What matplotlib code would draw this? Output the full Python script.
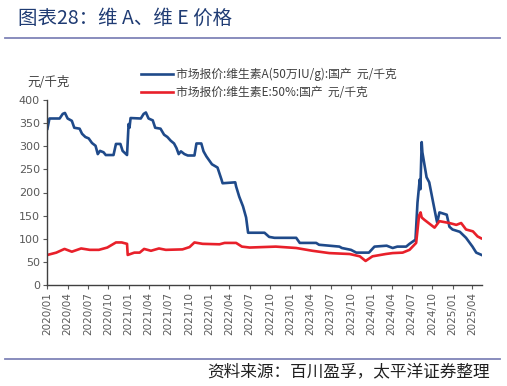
import matplotlib
matplotlib.use('Agg')
import matplotlib.pyplot as plt
import matplotlib.dates as mdates
import pandas as pd

plt.rcParams['font.family'] = ['Noto Sans CJK SC', 'DejaVu Sans']

# 维生素A 国产市场报价（元/千克）
va_dates = ['2020-01-01', '2020-01-10', '2020-02-25', '2020-03-10', '2020-03-20', '2020-04-01',
            '2020-04-20', '2020-05-01', '2020-05-25', '2020-06-05', '2020-06-20', '2020-07-05',
            '2020-07-20', '2020-08-05', '2020-08-15', '2020-08-25', '2020-09-10', '2020-09-20',
            '2020-10-25', '2020-11-05', '2020-11-25', '2020-12-05', '2020-12-25', '2021-01-01',
            '2021-01-05', '2021-01-10', '2021-02-25', '2021-03-10', '2021-03-20', '2021-04-01',
            '2021-04-20', '2021-05-01', '2021-05-25', '2021-06-10', '2021-06-25', '2021-07-10',
            '2021-07-25', '2021-08-05', '2021-08-15', '2021-08-25', '2021-09-10', '2021-09-25',
            '2021-10-25', '2021-11-03', '2021-11-25', '2021-12-05', '2021-12-18', '2022-01-12',
            '2022-02-06', '2022-02-24', '2022-03-01', '2022-04-27', '2022-05-01', '2022-05-15',
            '2022-06-01', '2022-06-15', '2022-06-24', '2022-09-06', '2022-09-27', '2022-10-21',
            '2023-01-27', '2023-02-12', '2023-04-27', '2023-05-10', '2023-08-10', '2023-08-21',
            '2023-10-01', '2023-10-25', '2023-12-21', '2024-01-15', '2024-03-10', '2024-04-06',
            '2024-04-27', '2024-06-06', '2024-06-21', '2024-07-18', '2024-07-27', '2024-08-06',
            '2024-08-09', '2024-08-15', '2024-08-18', '2024-09-06', '2024-09-18', '2024-10-03',
            '2024-10-21', '2024-10-24', '2024-11-03', '2024-12-06', '2024-12-18', '2025-01-01',
            '2025-02-03', '2025-03-03', '2025-04-01', '2025-04-18', '2025-05-12']
va_values = [338, 360, 360, 370, 372, 360,
             355, 340, 338, 327, 320, 317,
             307, 301, 283, 290, 287, 281,
             281, 305, 305, 290, 281, 348,
             340, 361, 360, 370, 373, 360,
             356, 340, 338, 325, 320, 312,
             306, 296, 283, 289, 283, 280,
             280, 306, 306, 289, 278, 261,
             254, 228, 220, 222, 213, 191,
             170, 146, 113, 113, 104, 102,
             102, 91, 91, 87, 83, 80,
             76, 70, 70, 83, 85, 80,
             83, 83, 89, 98, 178, 228,
             207, 309, 287, 233, 222, 185,
             141, 135, 157, 152, 126, 120,
             115, 102, 83, 70, 65]

# 维生素E 50% 国产市场报价（元/千克）
ve_dates = ['2020-01-01', '2020-02-10', '2020-03-18', '2020-04-20', '2020-06-01', '2020-07-10',
            '2020-08-20', '2020-09-27', '2020-11-05', '2020-12-01', '2020-12-25', '2020-12-28',
            '2021-01-27', '2021-02-20', '2021-03-12', '2021-04-12', '2021-05-18', '2021-06-18',
            '2021-09-01', '2021-10-03', '2021-10-25', '2021-12-01', '2022-02-15', '2022-03-10',
            '2022-05-01', '2022-05-27', '2022-07-01', '2022-10-27', '2023-01-27', '2023-04-10',
            '2023-06-25', '2023-09-25', '2023-11-10', '2023-12-06', '2024-01-06', '2024-03-06',
            '2024-04-06', '2024-05-21', '2024-06-21', '2024-07-21', '2024-08-03', '2024-08-10',
            '2024-08-15', '2024-08-27', '2024-10-12', '2024-11-03', '2024-12-18', '2025-01-18',
            '2025-02-09', '2025-03-03', '2025-04-03', '2025-04-24', '2025-05-10']
ve_values = [65, 70, 78, 72, 79, 76,
             76, 81, 92, 92, 89, 65,
             70, 70, 78, 74, 79, 76,
             77, 82, 92, 89, 88, 91,
             91, 83, 81, 83, 80, 74,
             69, 67, 62, 52, 62, 67,
             69, 70, 76, 91, 150, 157,
             146, 141, 124, 138, 134, 130,
             134, 120, 116, 105, 101]

va_label = '市场报价:维生素A(50万IU/g):国产  元/千克'
ve_label = '市场报价:维生素E:50%:国产  元/千克'

va = pd.Series(va_values, index=pd.to_datetime(va_dates))
ve = pd.Series(ve_values, index=pd.to_datetime(ve_dates))

W, H = 507, 386
fig = plt.figure(figsize=(W / 100, H / 100), dpi=100)
ax = fig.add_axes([47 / W, 1 - 285 / H, 435 / W, 185 / H])

l1, = ax.plot(va.index, va.values, color='#1F4A8A', lw=1.9)
l2, = ax.plot(ve.index, ve.values, color='#E8202A', lw=1.9)

ax.set_ylim(0, 400)
ax.set_yticks(range(0, 401, 50))
ax.set_xlim(pd.Timestamp('2019-12-30'), pd.Timestamp('2025-05-14'))
ticks = pd.date_range('2020-01-01', '2025-04-01', freq='3MS')
ax.set_xticks(ticks)
ax.xaxis.set_major_formatter(mdates.DateFormatter('%Y/%m'))
ax.tick_params(axis='x', rotation=90, labelsize=7.5, colors='#595959', length=3, pad=2)
ax.tick_params(axis='y', labelsize=8, colors='#595959', length=3, pad=2)
for lab in ax.get_xticklabels() + ax.get_yticklabels():
    lab.set_family(['DejaVu Sans'])
for s in ['top', 'right']:
    ax.spines[s].set_visible(False)
for s in ['left', 'bottom']:
    ax.spines[s].set_color('#404040')
    ax.spines[s].set_linewidth(1.0)

fig.legend([l1, l2], [va_label, ve_label], loc='upper left',
           bbox_to_anchor=(130 / W, 1 - 57 / H), frameon=False,
           fontsize=8.5, handlelength=2.7, handletextpad=0.3, labelspacing=0.45,
           labelcolor='#404040')

fig.text(27 / W, 1 - 83 / H, '元/千克', fontsize=9, color='#404040', va='center', ha='left')

# title and rules
fig.text(18 / W, 1 - 18 / H, '图表28：维 A、维 E 价格', fontsize=14, color='#1F3B73',
         va='center', ha='left')
fig.add_artist(plt.Line2D([5 / W, 500 / W], [1 - 37.5 / H] * 2, color='#7F84B8', lw=1.3))
fig.add_artist(plt.Line2D([5 / W, 500 / W], [1 - 359 / H] * 2, color='#7F84B8', lw=1.3))
fig.text(490 / W, 1 - 372 / H, '资料来源：百川盈孚，太平洋证券整理', fontsize=12, color='#202020',
         va='center', ha='right', style='italic')

fig.savefig('out.png', dpi=100)
